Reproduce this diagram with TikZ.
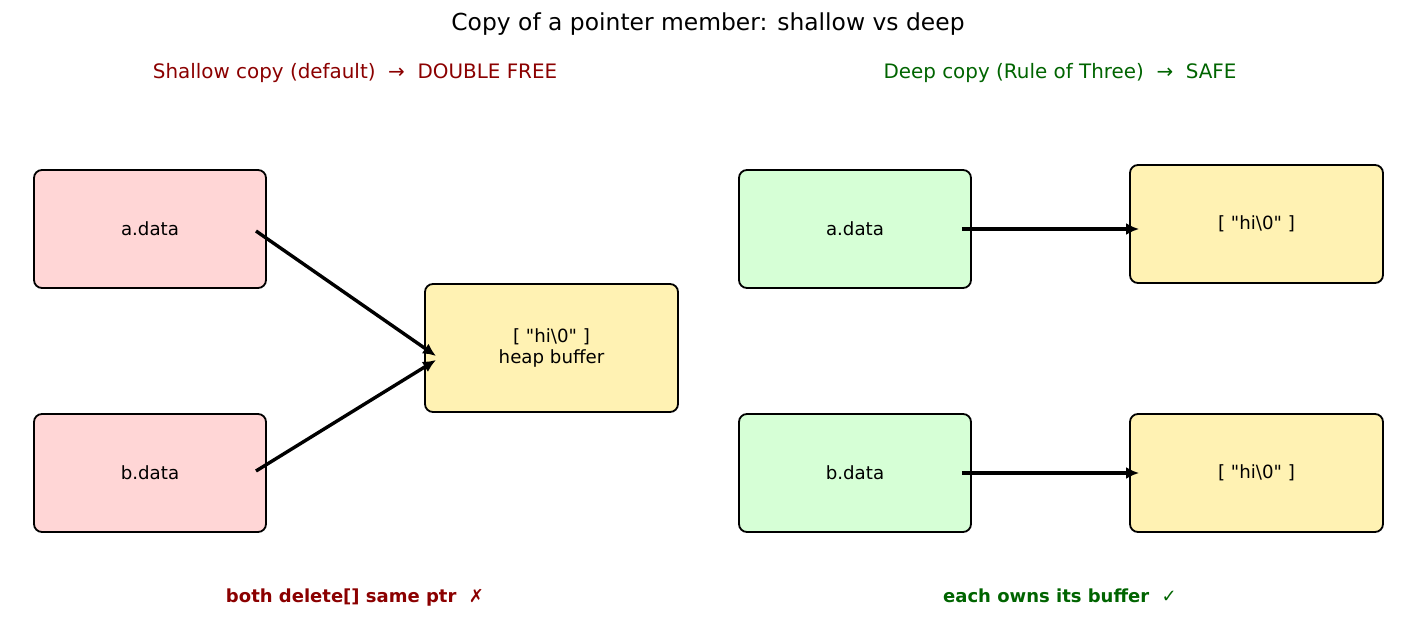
\documentclass[tikz,border=0pt]{standalone}
\usepackage{fontspec}
\setmainfont{DejaVu Sans}
\newfontfamily\symfont{DejaVu Sans}
\usetikzlibrary{arrows.meta}
\definecolor{pinkfill}{HTML}{FFD6D6}
\definecolor{greenfill}{HTML}{D6FFD6}
\definecolor{yellowfill}{HTML}{FFF2B3}
\definecolor{darkred}{HTML}{8B0000}
\definecolor{darkgreen}{HTML}{006400}
\newcommand{\hibuf}{[ \textquotedbl hi\textbackslash0\textquotedbl\ ]}
\tikzset{
  box/.style={draw=black, line width=1.8pt, rounded corners=8pt, minimum width=232pt, minimum height=118pt, inner sep=0pt, font=\fontsize{18.2}{21.5}\selectfont, align=center},
  buf/.style={box, fill=yellowfill, minimum width=253pt},
  ptr/.style={line width=3.4pt, -{Latex[length=13pt,width=12pt]}},
  note/.style={font=\fontsize{18}{21}\selectfont\bfseries, text height=13pt, text depth=4pt},
}
\begin{document}
\begin{tikzpicture}[x=1pt,y=-1pt]
\useasboundingbox (0,0) rectangle (1417,643);
\node (title) at (708,24) {\fontsize{23.4}{28}\selectfont Copy of a pointer member: shallow vs deep};
\node[text=darkred] (lsub) at (355,73) {\fontsize{19.9}{24}\selectfont Shallow copy (default) \ {\symfont →} \ DOUBLE FREE};
\node[text=darkgreen] (rsub) at (1060,73) {\fontsize{19.9}{24}\selectfont Deep copy (Rule of Three) \ {\symfont →} \ SAFE};

\node[box, fill=pinkfill] (la) at (150,229) {a.data};
\node[box, fill=pinkfill] (lb) at (150,473) {b.data};
\node[buf, minimum height=128pt] (heap) at (551.5,348) {\hibuf\\heap buffer};

\node[box, fill=greenfill] (ra) at (855,229) {a.data};
\node[box, fill=greenfill] (rb) at (855,473) {b.data};
\node[buf] (rbufa) at (1256.5,224) {\hibuf};
\node[buf] (rbufb) at (1256.5,473) {\hibuf};

\coordinate (las) at (256,231);
\coordinate (lbs) at (256,471);
\coordinate (hin1) at (436,356);
\coordinate (hin2) at (436,360);
\draw[ptr] (las) -- (hin1);
\draw[ptr] (lbs) -- (hin2);
\draw[ptr] ([xshift=-10pt]ra.east) -- ([xshift=10pt]rbufa.west |- ra.east);
\draw[ptr] ([xshift=-10pt]rb.east) -- ([xshift=10pt]rbufb.west);

\node[note, text=darkred] (lnote) at (355,598) {both delete[] same ptr \ {\mdseries\symfont ✗}};
\node[note, text=darkgreen] (rnote) at (1060,598) {each owns its buffer \ {\mdseries\symfont ✓}};
\end{tikzpicture}
\end{document}
